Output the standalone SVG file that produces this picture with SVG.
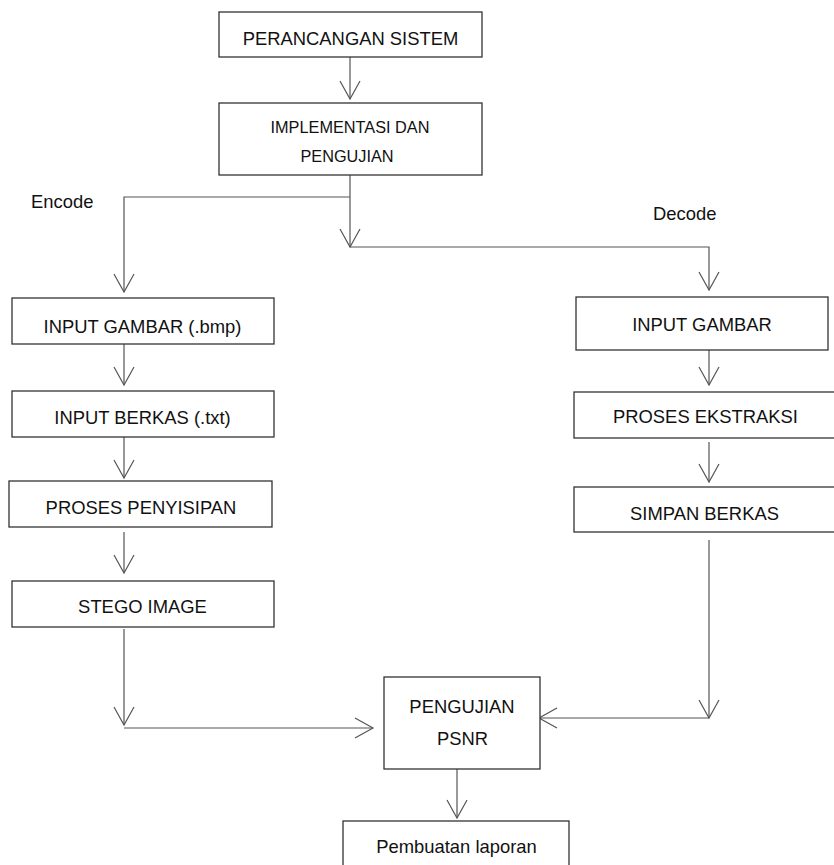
<svg xmlns="http://www.w3.org/2000/svg" width="834" height="865" viewBox="0 0 834 865">
<style>
.box{fill:#fff;stroke:#333;stroke-width:1.3}
.t{font-family:"Liberation Sans",Arial,sans-serif;font-size:18.4px;fill:#111;text-anchor:middle}
.s{font-size:16.3px}
.lbl{text-anchor:start}
.c{fill:none;stroke:#555;stroke-width:1.2}
</style>
<defs>
<marker id="arr" markerUnits="userSpaceOnUse" viewBox="-20 -12 22 24" refX="0" refY="0" markerWidth="22" markerHeight="24" orient="auto" overflow="visible">
<path d="M-18,-10 L0,0 L-18,10" fill="none" stroke="#555" stroke-width="1.2"/>
</marker>
</defs>
<rect width="834" height="865" fill="#fff"/>
<g id="connectors">
<line class="c" x1="350" y1="57" x2="350" y2="99" marker-end="url(#arr)"/>
<line class="c" x1="350" y1="175" x2="350" y2="247" marker-end="url(#arr)"/>
<polyline class="c" points="350,197 124,197 124,292" marker-end="url(#arr)"/>
<polyline class="c" points="350,247 709,247 709,290" marker-end="url(#arr)"/>
<line class="c" x1="124" y1="344" x2="124" y2="385" marker-end="url(#arr)"/>
<line class="c" x1="124" y1="437" x2="124" y2="478" marker-end="url(#arr)"/>
<line class="c" x1="124" y1="532" x2="124" y2="573" marker-end="url(#arr)"/>
<line class="c" x1="124" y1="629" x2="124" y2="725" marker-end="url(#arr)"/>
<line class="c" x1="124" y1="728" x2="373" y2="728" marker-end="url(#arr)"/>
<line class="c" x1="709" y1="338" x2="709" y2="385" marker-end="url(#arr)"/>
<line class="c" x1="709" y1="442" x2="709" y2="482" marker-end="url(#arr)"/>
<line class="c" x1="709" y1="540" x2="709" y2="718" marker-end="url(#arr)"/>
<line class="c" x1="709" y1="718" x2="539" y2="718" marker-end="url(#arr)"/>
<line class="c" x1="457" y1="757" x2="457" y2="818" marker-end="url(#arr)"/>
</g>
<g id="label-encode"><text class="t lbl" x="31" y="208">Encode</text></g>
<g id="label-decode"><text class="t lbl" x="653" y="220">Decode</text></g>
<g id="n-perancangan">
<rect class="box" x="219" y="12" width="263" height="45"/>
<text class="t" x="350.5" y="45">PERANCANGAN SISTEM</text>
</g>
<g id="n-implementasi">
<rect class="box" x="219" y="103" width="263" height="72"/>
<text class="t s" x="350" y="133">IMPLEMENTASI DAN</text>
<text class="t s" x="347" y="162">PENGUJIAN</text>
</g>
<g id="n-input-gambar-bmp">
<rect class="box" x="12" y="298" width="262" height="46"/>
<text class="t" x="142.5" y="333">INPUT GAMBAR (.bmp)</text>
</g>
<g id="n-input-berkas">
<rect class="box" x="12" y="391" width="262" height="46"/>
<text class="t" x="142.5" y="424">INPUT BERKAS (.txt)</text>
</g>
<g id="n-penyisipan">
<rect class="box" x="9" y="481" width="263" height="46"/>
<text class="t" x="141" y="514">PROSES PENYISIPAN</text>
</g>
<g id="n-stego">
<rect class="box" x="12" y="581" width="262" height="46"/>
<text class="t" x="142.5" y="613">STEGO IMAGE</text>
</g>
<g id="n-input-gambar">
<rect class="box" x="576" y="297" width="252" height="53"/>
<text class="t" x="702" y="331">INPUT GAMBAR</text>
</g>
<g id="n-ekstraksi">
<rect class="box" x="574" y="392" width="266" height="46"/>
<text class="t" x="705.5" y="423">PROSES EKSTRAKSI</text>
</g>
<g id="n-simpan">
<rect class="box" x="574" y="487" width="266" height="45"/>
<text class="t" x="704.5" y="520">SIMPAN BERKAS</text>
</g>
<g id="n-psnr">
<rect class="box" x="384" y="677" width="156" height="92"/>
<text class="t" x="462" y="713">PENGUJIAN</text>
<text class="t" x="462.5" y="745">PSNR</text>
</g>
<g id="n-laporan">
<rect class="box" x="343" y="821" width="226" height="60"/>
<text class="t" x="456.5" y="853">Pembuatan laporan</text>
</g>
</svg>
